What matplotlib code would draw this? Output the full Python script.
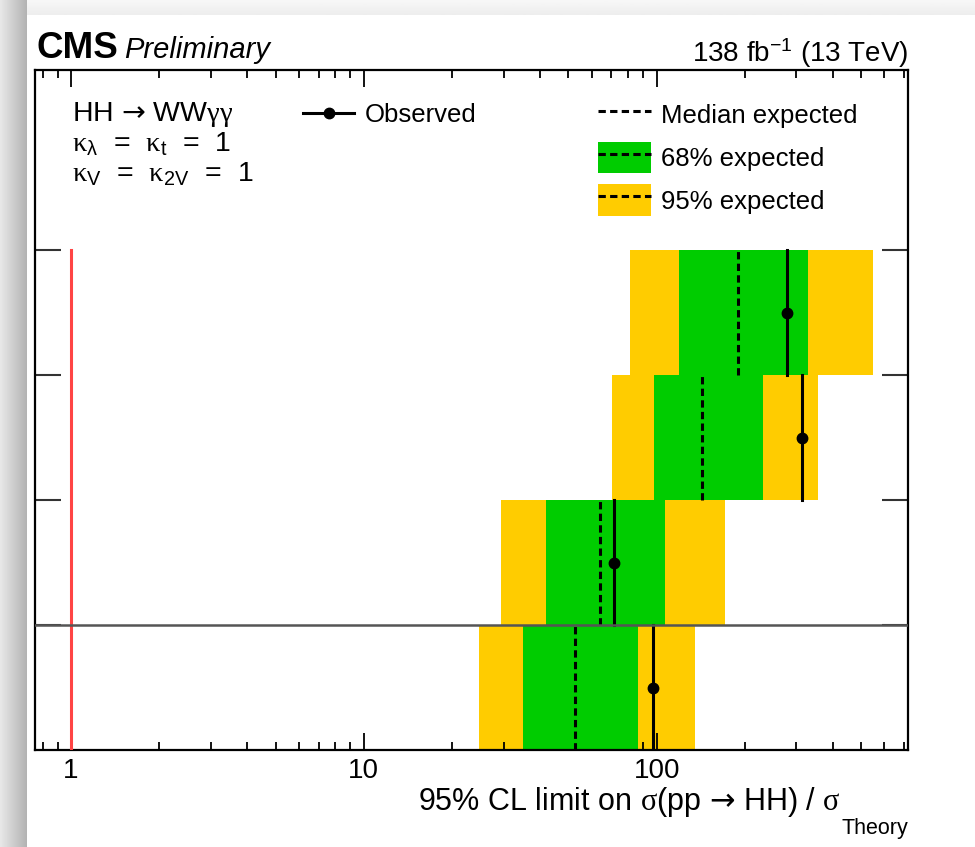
import numpy as np
import matplotlib
matplotlib.use("Agg")
import matplotlib.pyplot as plt
from matplotlib.lines import Line2D
from matplotlib.patches import Patch
from matplotlib.legend_handler import HandlerTuple
from matplotlib.ticker import LogLocator, NullFormatter

plt.rcParams['font.family'] = ['Liberation Sans', 'DejaVu Sans']
plt.rcParams['mathtext.fontset'] = 'custom'
plt.rcParams['mathtext.rm'] = 'Liberation Sans'
plt.rcParams['mathtext.it'] = 'Liberation Sans:italic'
plt.rcParams['mathtext.bf'] = 'Liberation Sans:bold'
plt.rcParams['mathtext.tt'] = 'Liberation Serif'
plt.rcParams['mathtext.sf'] = 'DejaVu Sans'
plt.rcParams['mathtext.default'] = 'regular'

# ---- data (rows listed from top to bottom; last row = combination) ----
observed = [279.4, 313.0, 71.5, 97.0]
median_exp = [190.1, 143.3, 64.1, 52.6]
lo68 = [119.3, 97.7, 41.9, 35.0]
hi68 = [329.6, 230.4, 107.1, 86.2]
lo95 = [81.3, 70.3, 29.4, 24.7]
hi95 = [550.0, 354.9, 171.2, 135.6]
theory_ref = 1.0
xtick_vals = [1, 10, 100]
xtick_labels = ['1', '10', '100']

GREEN = '#00cc00'
YELLOW = '#ffcc00'

n = len(observed)
rows = np.arange(n)[::-1]  # top row has highest y

fig = plt.figure(figsize=(9.75, 8.47), dpi=100)
fig.patch.set_facecolor('white')

# screenshot frame decoration
bgl = fig.add_axes([0, 0, 27/975, 1], zorder=-5)
bgl.imshow(np.linspace(0.91, 0.70, 60)[None, :], cmap='gray', vmin=0, vmax=1,
           aspect='auto')
bgl.axis('off')
bgt = fig.add_axes([27/975, 1 - 15/847, 1 - 27/975, 15/847], zorder=-5)
bgt.imshow(np.linspace(0.97, 0.93, 20)[:, None], cmap='gray', vmin=0, vmax=1,
           aspect='auto')
bgt.axis('off')

ax = fig.add_axes([35/975, 97/847, 873/975, 680/847])
ax.set_xscale('log')
ax.set_xlim(0.753, 722)
ax.set_ylim(0, 5.44)

for i, r in enumerate(rows):
    ax.barh(r + 0.5, hi95[i] - lo95[i], left=lo95[i], height=1.0, color=YELLOW,
            edgecolor='none', zorder=1)
    ax.barh(r + 0.5, hi68[i] - lo68[i], left=lo68[i], height=1.0, color=GREEN,
            edgecolor='none', zorder=2)
    ax.plot([median_exp[i], median_exp[i]], [r, r + 1], color='black', lw=2.2,
            dashes=(2.4, 1.4), zorder=3)
    ax.plot([observed[i], observed[i]], [r, r + 1], color='black', lw=2.2, zorder=4)
    ax.plot([observed[i]], [r + 0.5], 'o', color='black', ms=7.5, zorder=5)

ax.plot([theory_ref, theory_ref], [0, n], color='#ff4444', lw=2.2, zorder=6)
ax.axhline(1, color='#555555', lw=1.8, zorder=6)

# ticks
ax.set_xticks(xtick_vals)
ax.set_xticklabels(xtick_labels)
ax.xaxis.set_minor_locator(LogLocator(base=10, subs=np.arange(2, 10), numticks=50))
ax.xaxis.set_minor_formatter(NullFormatter())
ax.tick_params(axis='x', which='major', direction='in', length=12, width=1.3,
               top=True, bottom=True, labelsize=20, pad=6)
ax.tick_params(axis='x', which='minor', direction='in', length=6, width=1.3,
               top=True, bottom=True)
ax.set_yticks(np.arange(1, n + 1))
ax.set_yticklabels([''] * n)
ax.tick_params(axis='y', which='major', direction='in', length=18.5, width=1.5,
               color='#333333', left=True, right=True)
for s in ax.spines.values():
    s.set_linewidth(1.6)

# header texts
fig.text(37/975, 1 - 58/847, 'CMS', fontsize=26.5, fontweight='bold', va='baseline')
fig.text(124/975, 1 - 58/847, 'Preliminary', fontsize=21, fontstyle='italic', va='baseline')
fig.text(908/975, 1 - 62/847, r'138 fb$^{-1}$ (13 TeV)', fontsize=20, ha='right',
         va='baseline')

# x label (main part + lowered subscript)
sub = fig.text(908/975, 1 - 834/847, 'Theory', fontsize=15.5, ha='right', va='baseline')
fig.canvas.draw()
sub_left = sub.get_window_extent().x0
fig.text((sub_left - 1) / 975, 1 - 810/847,
         r'95% CL limit on $\mathtt{σ}$(pp $\mathsf{→}$ HH) / $\mathtt{σ}$',
         fontsize=22, ha='right', va='baseline')

# model text
tx = (72 - 35) / 873
for ypx, s in [(121, r'HH $\mathsf{→}$ WW$\mathtt{γγ}$'),
               (151, r'$\mathtt{κ}_{λ}$  =  $\mathtt{κ}_{t}$  =  1'),
               (181, r'$\mathtt{κ}_{V}$  =  $\mathtt{κ}_{2V}$  =  1')]:
    ax.text(tx, (750 - ypx) / 680, s, transform=ax.transAxes, fontsize=20.5,
            va='baseline', ha='left')

# legends
fs = 18.5
h_obs = Line2D([], [], color='black', lw=2.2, marker='o', ms=7.5)
leg1 = ax.legend([h_obs], ['Observed'], loc='upper left',
                 bbox_to_anchor=((303 - 35) / 873, (750 - 103) / 680),
                 frameon=False, fontsize=fs, handlelength=2.0, handletextpad=0.42,
                 borderpad=0, borderaxespad=0, numpoints=1)
ax.add_artist(leg1)

h_med = Line2D([], [], color='black', lw=2.2, dashes=(2.4, 1.4))
h68 = (Patch(facecolor=GREEN, edgecolor='none'),
       Line2D([], [], color='black', lw=2.2, dashes=(2.4, 1.4)))
h95 = (Patch(facecolor=YELLOW, edgecolor='none'),
       Line2D([], [], color='black', lw=2.2, dashes=(2.4, 1.4)))
leg2 = ax.legend([h_med, h68, h95], ['Median expected', '68% expected', '95% expected'],
                 handler_map={tuple: HandlerTuple(ndivide=1, pad=0)},
                 loc='upper left',
                 bbox_to_anchor=((598 - 35) / 873, (750 - 99) / 680),
                 frameon=False, fontsize=fs, handlelength=2.05, handleheight=1.53,
                 handletextpad=0.42, labelspacing=0.42, borderpad=0, borderaxespad=0)

fig.savefig('out.png', dpi=100)
